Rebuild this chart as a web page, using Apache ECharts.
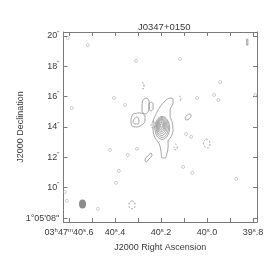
<!DOCTYPE html>
<html><head><meta charset="utf-8">
<script src="https://cdn.jsdelivr.net/npm/echarts@6/dist/echarts.min.js"></script>
<style>html,body{margin:0;padding:0;background:#fff}#c{width:275px;height:263px}</style>
</head><body><div id="c"></div>
<script>
// Reference position (RA seconds of 03h47m, Dec arcsec of +01°05')
const RA0 = 40.2, DEC0 = 14.07;
// Tick values
const raTicks = [40.6, 40.4, 40.2, 40.0, 39.8];
const raMinorTicks = [40.6, 40.5, 40.4, 40.3, 40.2, 40.1, 40.0, 39.9, 39.8];
const decTicks = [8, 10, 12, 14, 16, 18, 20];
// Positive contours: offsets [east arcsec, north arcsec] from reference
const outerContour = [[0.39,0.66],[0.07,1.25],[-0.26,1.64],[-0.59,1.84],[-0.78,1.78],[-0.78,1.51],[-0.59,1.05],[-0.59,0.66],[-0.72,0.26],[-0.78,-0.26],[-0.65,-0.72],[-0.46,-0.99],[-0.46,-1.38],[-0.39,-1.78],[-0.26,-2.11],[-0.07,-2.11],[0,-1.71],[0.07,-1.32],[0.2,-1.05],[0.39,-0.79],[0.52,-0.26],[0.52,0.26],[0.39,0.66]];
const ring2 = [[0.42,-0.13],[0.27,0.40],[-0.07,0.63],[-0.41,0.40],[-0.56,-0.13],[-0.41,-0.66],[-0.07,-0.89],[0.27,-0.66],[0.42,-0.13]];
const ring3 = [[0.34,-0.1],[0.22,0.36],[-0.07,0.56],[-0.36,0.36],[-0.48,-0.1],[-0.36,-0.56],[-0.07,-0.76],[0.22,-0.56],[0.34,-0.1]];
const ring4 = [[0.30,-0.07],[0.19,0.32],[-0.05,0.49],[-0.29,0.32],[-0.40,-0.07],[-0.29,-0.46],[-0.05,-0.63],[0.19,-0.46],[0.30,-0.07]];
const ring5 = [[0.25,-0.03],[0.16,0.29],[-0.04,0.43],[-0.24,0.29],[-0.33,-0.03],[-0.24,-0.35],[-0.04,-0.49],[0.16,-0.35],[0.25,-0.03]];
const ring6 = [[0.2,0],[0.13,0.26],[-0.03,0.37],[-0.19,0.26],[-0.26,0],[-0.19,-0.26],[-0.03,-0.37],[0.13,-0.26],[0.2,0]];
const ring7 = [[0.15,0.01],[0.09,0.21],[-0.03,0.29],[-0.15,0.21],[-0.21,0.01],[-0.15,-0.19],[-0.03,-0.27],[0.09,-0.19],[0.15,0.01]];
const ring8 = [[0.09,0.03],[0.06,0.17],[-0.03,0.23],[-0.12,0.17],[-0.15,0.03],[-0.12,-0.11],[-0.03,-0.17],[0.06,-0.11],[0.09,0.03]];
const ring9 = [[0.04,0.03],[0.02,0.11],[-0.03,0.14],[-0.08,0.11],[-0.1,0.03],[-0.08,-0.05],[-0.03,-0.08],[0.02,-0.05],[0.04,0.03]];
const blobEast = [[1.83,0.79],[1.37,0.86],[1.05,0.66],[1.05,0.33],[1.18,0.13],[1.57,-0.07],[1.90,0],[1.96,0.39],[1.83,0.79]];
const blobEastInner = [[1.76,0.46],[1.57,0.59],[1.44,0.39],[1.50,0.13],[1.70,0.13],[1.83,0.26],[1.76,0.46]];
const loopNE1 = [[1.18,1.71],[0.98,1.84],[0.78,1.64],[0.78,1.25],[0.85,0.92],[1.05,0.79],[1.24,0.99],[1.24,1.38],[1.18,1.71]];
const loopNE2 = [[0.78,1.45],[0.65,1.58],[0.52,1.45],[0.52,1.12],[0.65,0.99],[0.78,1.12],[0.78,1.45]];
const loopW = [[-1.57,0.53],[-1.70,0.72],[-1.90,0.79],[-1.96,0.66],[-1.83,0.46],[-1.63,0.39],[-1.57,0.53]];
const loopSE = [[0.65,-1.78],[0.59,-1.91],[0.78,-2.17],[0.98,-2.37],[1.05,-2.24],[0.85,-1.97],[0.65,-1.78]];
const barNW = [[-5.58,5.72],[-5.66,5.72],[-5.66,5.33],[-5.58,5.33],[-5.58,5.72]];
// Negative contours (dashed)
const negCore = [[0.59,0.26],[0.46,0.33],[0.39,0.13],[0.46,-0.13],[0.59,-0.13],[0.65,0.07],[0.59,0.26]];
const negW = [[-2.94,-0.86],[-3.14,-0.99],[-3.20,-1.18],[-3.07,-1.45],[-2.88,-1.38],[-2.75,-1.18],[-2.81,-0.99],[-2.94,-0.86]];
const negTail = [[-0.92,-1.18],[-1.05,-1.32],[-1.05,-1.51],[-0.92,-1.58],[-0.85,-1.38]];
const negSE = [[1.90,-4.93],[1.70,-5.07],[1.70,-5.33],[1.90,-5.46],[2.09,-5.33],[2.09,-5.07],[1.90,-4.93]];
const negN = [[1.24,2.89],[1.11,2.76],[1.11,2.5],[1.24,2.43]];
const negN2 = [[-1.18,1.97],[-1.31,1.84],[-1.24,1.64]];
// Tiny positive contours (centres)
const tinyContours = [[4.77,5.33],[6.08,5.79],[-1.24,4.41],[1.63,4.28],[-3.86,2.89],[3.07,1.84],[2.35,1.38],[5.82,1.18],[-2.35,1.84],[-3.46,2.04],[-3.73,1.71],[-6.14,2.04],[-1.63,-0.53],[-1.96,-0.72],[3.33,-1.58],[2.16,-1.91],[1.57,-1.51],[-1.44,-2.70],[-2.03,-3.09],[2.75,-2.96],[2.94,-3.75],[-4.90,-3.49],[6.27,-4.34],[6.14,-4.93],[4.12,-5.46]];
// Restoring beam centre
const beam = [[5.12,-5.15]];

function conv(arr){ return arr.map(p => [RA0 + p[0]/15, DEC0 + p[1]]); }

const posC = [outerContour, ring2, ring3, ring4, ring5, ring6, ring7, ring8, ring9, blobEast, blobEastInner, loopNE1, loopNE2, loopW, loopSE, barNW];
const negC = [negCore, negW, negTail, negSE, negN, negN2];
const CC = '#939393';
const series = [];
posC.forEach(c => series.push({type:'line', data: conv(c), smooth:0.35, showSymbol:false, silent:true,
  lineStyle:{color:CC, width:0.85}, xAxisIndex:0, yAxisIndex:0}));
negC.forEach(c => series.push({type:'line', data: conv(c), smooth:0.35, showSymbol:false, silent:true,
  lineStyle:{color:CC, width:0.85, type:[2,1.5]}, xAxisIndex:0, yAxisIndex:0}));
series.push({type:'scatter', data: conv(tinyContours), symbol:'circle', symbolSize:3, silent:true,
  itemStyle:{color:'rgba(255,255,255,0)', borderColor:'#a8a8a8', borderWidth:0.7}});
series.push({type:'scatter', data: conv(beam), symbol:'circle', symbolSize:[7,9], silent:true,
  itemStyle:{color:'#6e6e6e'}});

const AX = '#7a7a7a', TX = '#3a3a3a', FF = 'Liberation Sans, Arial, sans-serif';
const rich = {n:{fontSize:9, lineHeight:12, color:TX, fontFamily:FF},
  s:{fontSize:6, lineHeight:6, color:TX, fontFamily:FF, verticalAlign:'top'}};
function raLabel(v){
  const k = Math.round(v*10);
  const map = {406:'{n|03}{s|h}{n|47}{s|m}{n|40}{s|s}{n|.6}', 404:'{n|40}{s|s}{n|.4}', 402:'{n|40}{s|s}{n|.2}', 400:'{n|40}{s|s}{n|.0}', 398:'{n|39}{s|s}{n|.8}'};
  return map[k] || '';
}
function decLabel(v){
  const k = Math.round(v);
  if (k === 8) return '{n|1°05\'08\'\'}';
  return '{n|' + k + '}{s|\'\'}';
}
const xmin = 39.783, xmax = 40.624, ymin = 7.74, ymax = 20.26;
const chart = echarts.init(document.getElementById('c'), null, {renderer:'canvas'});
chart.setOption({
  animation:false,
  backgroundColor:'#fff',
  title:{text:'J0347+0150', left:133, top:17, textStyle:{fontSize:9.5, fontWeight:'normal', color:TX, fontFamily:FF}},
  grid:{left:63.5, right:18, top:32, bottom:41, containLabel:false},
  xAxis:[
    {type:'value', min:xmin, max:xmax, inverse:true, position:'bottom',
     name:'J2000 Right Ascension', nameLocation:'middle', nameGap:21, nameMoveOverlap:false,
     nameTextStyle:{fontSize:9, color:TX, fontFamily:FF},
     axisLine:{show:true, onZero:false, lineStyle:{color:AX, width:1}},
     axisTick:{show:true, inside:true, length:4, customValues:raMinorTicks, lineStyle:{color:AX}},
     axisLabel:{show:true, customValues:raTicks, formatter:raLabel, rich:rich, margin:5},
     splitLine:{show:false}},
    {type:'value', min:xmin, max:xmax, inverse:true, position:'top',
     axisLine:{show:true, onZero:false, lineStyle:{color:AX, width:1}},
     axisTick:{show:true, inside:true, length:4, customValues:raMinorTicks, lineStyle:{color:AX}},
     axisLabel:{show:false}, splitLine:{show:false}}
  ],
  yAxis:[
    {type:'value', min:ymin, max:ymax, position:'left',
     name:'J2000 Declination', nameLocation:'middle', nameGap:38, nameMoveOverlap:false,
     nameTextStyle:{fontSize:9, color:TX, fontFamily:FF},
     axisLine:{show:true, onZero:false, lineStyle:{color:AX, width:1}},
     axisTick:{show:true, inside:true, length:4, customValues:decTicks, lineStyle:{color:AX}},
     axisLabel:{show:true, customValues:decTicks, formatter:decLabel, rich:rich, margin:4},
     splitLine:{show:false}},
    {type:'value', min:ymin, max:ymax, position:'right',
     axisLine:{show:true, onZero:false, lineStyle:{color:AX, width:1}},
     axisTick:{show:true, inside:true, length:4, customValues:decTicks, lineStyle:{color:AX}},
     axisLabel:{show:false}, splitLine:{show:false}}
  ],
  series: series
});
</script></body></html>
